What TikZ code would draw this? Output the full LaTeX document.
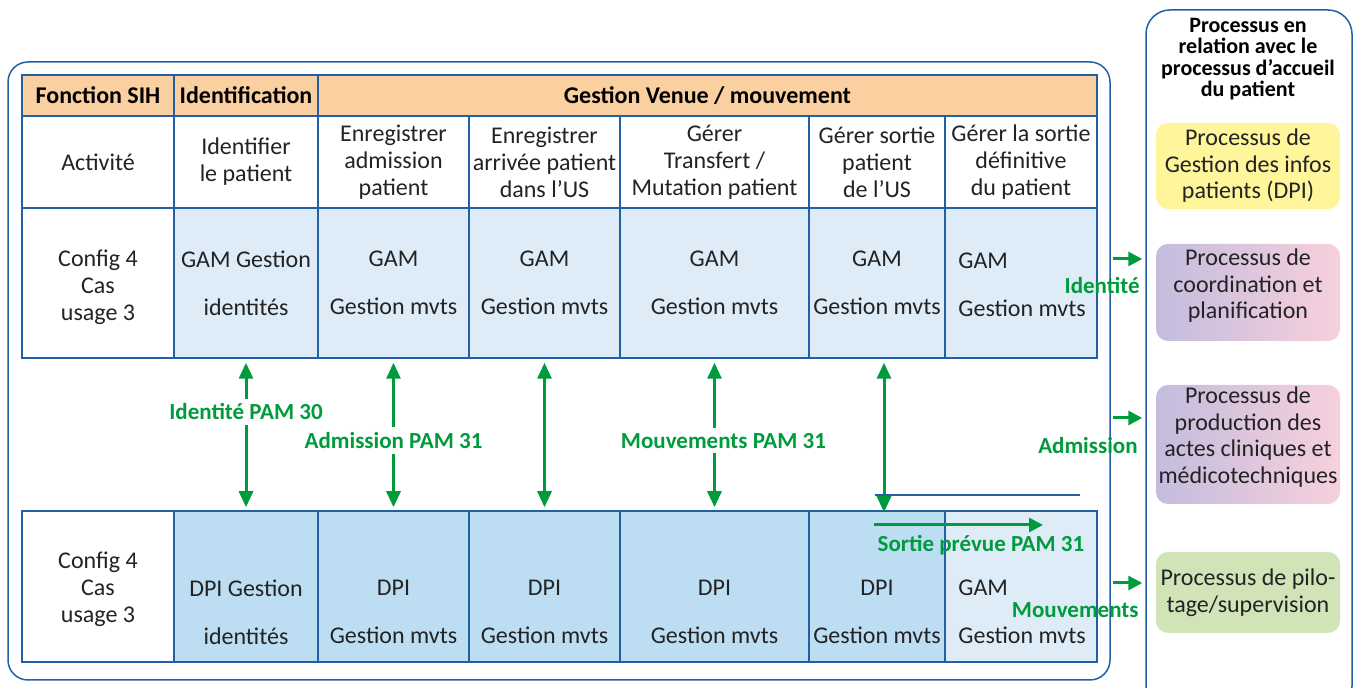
\documentclass[tikz,border=0pt]{standalone}
\usepackage{fontspec}
\setmainfont{Carlito}
\usetikzlibrary{arrows.meta}

\definecolor{sihblue}{RGB}{35,95,165}
\definecolor{sihgreen}{RGB}{0,155,60}
\definecolor{headorange}{RGB}{250,208,160}
\definecolor{paleblue}{RGB}{222,236,247}
\definecolor{midblue}{RGB}{189,221,242}
\definecolor{txtgray}{RGB}{35,35,35}
\definecolor{procyellow}{RGB}{255,245,155}
\definecolor{proclav}{RGB}{196,188,222}
\definecolor{procpink}{RGB}{247,208,220}
\definecolor{procgreen}{RGB}{208,228,184}

\tikzset{
    cell/.style={draw=sihblue, line width=0.75pt, inner sep=0pt, align=center,
        text=txtgray, font=\fontsize{12}{13.5}\selectfont},
    head/.style={cell, fill=headorange, text=black,
        font=\bfseries\fontsize{12}{13.5}\selectfont, minimum height=20.5pt},
    act/.style={cell, fill=white, minimum height=46pt},
    gam/.style={cell, fill=paleblue, minimum height=75pt},
    dpi/.style={cell, fill=midblue, minimum height=75.5pt},
    txt/.style={inner sep=0pt, align=center, text=txtgray,
        font=\fontsize{12}{13.5}\selectfont},
    flux/.style={inner sep=2.5pt, text=sihgreen,
        font=\bfseries\fontsize{11.5}{13}\selectfont},
    garrow/.style={draw=sihgreen, line width=1.5pt,
        {Triangle[length=8pt,width=7pt]}-{Triangle[length=8pt,width=7pt]}},
    rarrow/.style={draw=sihgreen, line width=1.5pt, -{Triangle[length=7pt,width=7pt]}},
    pbox/.style={rounded corners=6pt, inner sep=0pt, align=center, text=txtgray,
        minimum width=92pt, font=\fontsize{12}{13.25}\selectfont}
}

\begin{document}
\begin{tikzpicture}[x=0.5pt, y=-0.5pt]
    \useasboundingbox (0,0) rectangle (1357,688);
    \clip (0,0) rectangle (1357,688);

    % cadres
    \node [draw=sihblue, line width=0.75pt, rounded corners=10pt, minimum width=551pt,
        minimum height=309pt] (sih) at (559,371) {};
    \node [draw=sihblue, line width=0.75pt, rounded corners=12pt, minimum width=103pt,
        minimum height=350pt] (proc) at (1249,360) {};

    % en-tete
    \node [head, minimum width=76pt] (h1) at (98,95.5) {Fonction SIH};
    \node [head, minimum width=72pt] (h2) at (246,95.5) {Identification};
    \node [head, minimum width=389.5pt] (h3) at (707.5,95.5) {Gestion Venue / mouvement};

    % activites
    \node [act, minimum width=76pt] (a1) at (98,162) {Activité};
    \node [act, minimum width=72pt] (a2) at (246,162) {Identifier\\le patient};
    \node [act, minimum width=75.5pt] (a3) at (393.5,162) {Enregistrer\\admission\\patient};
    \node [act, minimum width=75.5pt] (a4) at (544.5,162) {Enregistrer\\arrivée patient\\dans l’US};
    \node [act, minimum width=94.5pt] (a5) at (714.5,162) {Gérer\\Transfert /\\Mutation patient};
    \node [act, minimum width=68pt] (a6) at (877,162) {Gérer sortie\\patient\\de l’US};
    \node [act, minimum width=76pt] (a7) at (1021,162) {Gérer la sortie\\définitive\\du patient};

    % GAM
    \node [gam, fill=white, minimum width=76pt] (g1) at (98,283) {};
    \node [txt] (g1t) at (98,287) {Config 4\\Cas\\usage 3};
    \node [gam, minimum width=72pt] (g2) at (246,283) {GAM Gestion\\[10.5pt]identités};
    \node [gam, minimum width=75.5pt] (g3) at (393.5,283) {GAM\\[10.5pt]Gestion mvts};
    \node [gam, minimum width=75.5pt] (g4) at (544.5,283) {GAM\\[10.5pt]Gestion mvts};
    \node [gam, minimum width=94.5pt] (g5) at (714.5,283) {GAM\\[10.5pt]Gestion mvts};
    \node [gam, minimum width=68pt] (g6) at (877,283) {GAM\\[10.5pt]Gestion mvts};
    \node [gam, minimum width=76pt] (g7) at (1021,283) {};
    \node [txt, align=left, anchor=west] (g7t) at (958,285) {GAM\\[10.5pt]Gestion mvts};

    % DPI
    \node [dpi, fill=white, minimum width=76pt] (d1) at (98,586.5) {};
    \node [txt] (d1t) at (98,589) {Config 4\\Cas\\usage 3};
    \node [dpi, minimum width=72pt] (d2) at (246,586.5) {};
    \node [dpi, minimum width=75.5pt] (d3) at (393.5,586.5) {};
    \node [dpi, minimum width=75.5pt] (d4) at (544.5,586.5) {};
    \node [dpi, minimum width=94.5pt] (d5) at (714.5,586.5) {};
    \node [dpi, minimum width=68pt] (d6) at (877,586.5) {};
    \node [dpi, fill=paleblue, minimum width=76pt] (d7) at (1021,586.5) {};
    \node [txt] (d2t) at (246,612) {DPI Gestion\\[10.5pt]identités};
    \node [txt] (d3t) at (393.5,612) {DPI\\[10.5pt]Gestion mvts};
    \node [txt] (d4t) at (544.5,612) {DPI\\[10.5pt]Gestion mvts};
    \node [txt] (d5t) at (714.5,612) {DPI\\[10.5pt]Gestion mvts};
    \node [txt] (d6t) at (877,612) {DPI\\[10.5pt]Gestion mvts};
    \node [txt, align=left, anchor=west] (d7t) at (958,612) {GAM\\[10.5pt]Gestion mvts};

    % flux PAM
    \draw [garrow, shorten <=2pt, shorten >=1.5pt] (g2.south) -- (d2.north)
        node [flux, fill=white, pos=0.35] (f1) {Identité PAM 30};
    \draw [garrow, shorten <=2pt, shorten >=1.5pt] (g3.south) -- (d3.north)
        node [flux, fill=white, pos=0.54] (f2) {Admission PAM 31};
    \draw [garrow, shorten <=2pt, shorten >=1.5pt] (g4.south) -- (d4.north);
    \draw [garrow, shorten <=2pt, shorten >=1.5pt] (g5.south) -- (d5.north)
        node [flux, fill=white, pos=0.54, xshift=4.5pt] (f3) {Mouvements PAM 31};
    \draw [garrow, shorten <=2pt, shorten >=-1pt] ([xshift=3.5pt]g6.south) -- ([xshift=3.5pt]d6.north);

    % sortie prevue
    \coordinate (bl1) at (875,495);
    \coordinate (bl2) at (1080,495);
    \draw [sihblue, line width=0.75pt] (bl1) -- (bl2);
    \coordinate (so1) at (874,525);
    \coordinate (so2) at (1043,525);
    \draw [rarrow] (so1) -- (so2);
    \node [flux, inner sep=0pt] (sortie) at (981,545) {Sortie prévue PAM 31};

    % vers les autres processus
    \coordinate (r1) at (0,259);
    \coordinate (r2) at (0,418);
    \coordinate (r3) at (0,583);
    \draw [rarrow, shorten <=1pt, shorten >=1.5pt] (sih.east |- r1) -- (proc.west |- r1);
    \draw [rarrow, shorten <=1pt, shorten >=1.5pt] (sih.east |- r2) -- (proc.west |- r2);
    \draw [rarrow, shorten <=1pt, shorten >=1.5pt] (sih.east |- r3) -- (proc.west |- r3);
    \node [flux, inner sep=0pt, anchor=east] (l1) at (1140,286) {Identité};
    \node [flux, inner sep=0pt, anchor=east] (l2) at (1138,446) {Admission};
    \node [flux, inner sep=0pt, anchor=east] (l3) at (1139,610) {Mouvements};

    % processus
    \node [align=center, inner sep=0pt, font=\bfseries\fontsize{11}{10.75}\selectfont] (titre)
        at (1248,59) {Processus en\\relation avec le\\processus d’accueil\\du patient};
    \node [pbox, fill=procyellow, minimum height=43pt] (p1) at (1248,166)
        {Processus de\\Gestion des infos\\patients (DPI)};
    \node [pbox, left color=proclav, right color=procpink, minimum height=48.5pt,
        text depth=8.5pt] (p2) at (1248,292.5) {Processus de\\coordination et\\planification};
    \node [pbox, left color=proclav, right color=procpink, minimum height=59.5pt,
        text depth=9.5pt] (p3) at (1248,444.5)
        {Processus de\\production des\\actes cliniques et\\médicotechniques};
    \node [pbox, fill=procgreen, minimum height=40.5pt] (p4) at (1248,592.5)
        {Processus de pilo-\\tage/supervision};
\end{tikzpicture}
\end{document}
